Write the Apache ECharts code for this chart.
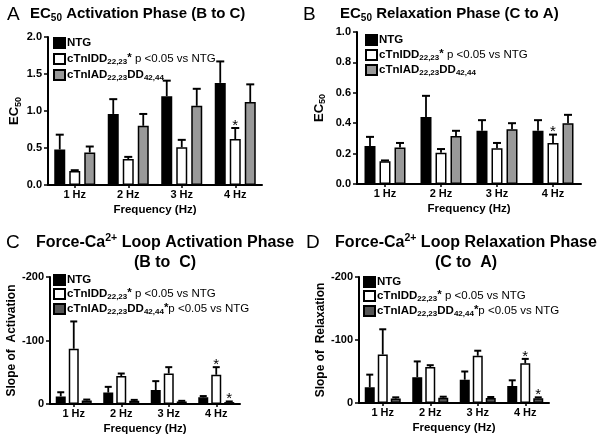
<!DOCTYPE html>
<html><head><meta charset="utf-8">
<script src="https://cdn.jsdelivr.net/npm/echarts@6/dist/echarts.min.js"></script>
<style>html,body{margin:0;padding:0;background:#fff}#c{width:601px;height:443px}</style>
</head><body><div id="c"></div>
<script>
// ---------- data ----------
const categories = ['1 Hz', '2 Hz', '3 Hz', '4 Hz'];

// Panel A: EC50 activation phase
const ntgA = [0.48, 0.96, 1.20, 1.38];
const ntgAErr = [0.68, 1.16, 1.41, 1.67];
const ddA = [0.19, 0.35, 0.51, 0.62];
const ddAErr = [0.20, 0.38, 0.61, 0.77];
const adA = [0.44, 0.80, 1.07, 1.12];
const adAErr = [0.52, 0.96, 1.30, 1.36];
const ntgAStar = [0, 0, 0, 0];
const ddAStar = [0, 0, 0, 1];
const adAStar = [0, 0, 0, 0];
const ticksA = [0, 0.5, 1.0, 1.5, 2.0];

// Panel B: EC50 relaxation phase
const ntgB = [0.25, 0.44, 0.35, 0.35];
const ntgBErr = [0.31, 0.58, 0.42, 0.42];
const ddB = [0.15, 0.205, 0.235, 0.27];
const ddBErr = [0.155, 0.23, 0.27, 0.325];
const adB = [0.24, 0.315, 0.36, 0.40];
const adBErr = [0.27, 0.35, 0.40, 0.455];
const ntgBStar = [0, 0, 0, 0];
const ddBStar = [0, 0, 0, 1];
const adBStar = [0, 0, 0, 0];
const ticksB = [0, 0.2, 0.4, 0.6, 0.8, 1.0];

// Panel C: slope of activation
const ntgC = [-12, -18, -22, -10.5];
const ntgCErr = [-18.5, -27, -36, -12.5];
const ddC = [-87, -44, -48, -46];
const ddCErr = [-130, -48, -58, -58];
const adC = [-5.5, -5, -4, -3];
const adCErr = [-7, -6.5, -5, -4];
const ntgCStar = [0, 0, 0, 0];
const ddCStar = [0, 0, 0, 1];
const adCStar = [0, 0, 0, 1];
const ticksC = [-200, -100, 0];

// Panel D: slope of relaxation
const ntgD = [-25, -41, -37, -27];
const ntgDErr = [-45, -66, -50, -36];
const ddD = [-77, -57, -75, -63];
const ddDErr = [-117, -60, -83, -70];
const adD = [-7, -8.5, -8, -7.5];
const adDErr = [-9, -10, -9.5, -9];
const ntgDStar = [0, 0, 0, 0];
const ddDStar = [0, 0, 0, 1];
const adDStar = [0, 0, 0, 1];
const ticksD = [-200, -100, 0];

// ---------- styling / layout ----------
const FONT = '"Liberation Sans", Arial, sans-serif';
const rich = {
  b: { fontFamily: FONT, fontWeight: 'bold', fontSize: 11.5, lineHeight: 14, color: '#000' },
  n: { fontFamily: FONT, fontWeight: 'normal', fontSize: 11.5, lineHeight: 14, color: '#000' },
  sub: { fontFamily: FONT, fontWeight: 'bold', fontSize: 8, lineHeight: 7, verticalAlign: 'bottom', color: '#000' },
  sup: { fontFamily: FONT, fontWeight: 'bold', fontSize: 11.5, lineHeight: 8, verticalAlign: 'top', color: '#000' }
};
const legendLabels = {
  NTG: '{b|NTG}',
  DD: '{b|cTnIDD}{sub|22,23}{sup|*}{n| p <0.05 vs NTG}',
  AD: '{b|cTnIAD}{sub|22,23}{b|DD}{sub|42,44}',
  ADs: '{b|cTnIAD}{sub|22,23}{b|DD}{sub|42,44}{sup|*}{n|p <0.05 vs NTG}'
};

const panels = [
  {
    key: 'A', grid: { left: 48, top: 37, width: 214, height: 148 },
    min: 0, max: 2, interval: 0.5, inverse: false, dec: 1,
    barWidth: 11, gap: 4, cap: 4,
    yName: '{y|EC}{ys|50}', yNameGap: 21, yNameSize: 13,
    legend: { left: 53, top: 37, itemGap: 3 },
    series: [
      { id: 'NTG', label: 'NTG', data: ntgA, err: ntgAErr, star: ntgAStar, color: '#000' },
      { id: 'DD', label: 'DD', data: ddA, err: ddAErr, star: ddAStar, color: '#fff' },
      { id: 'AD', label: 'AD', data: adA, err: adAErr, star: adAStar, color: '#999' }
    ]
  },
  {
    key: 'B', grid: { left: 357, top: 32, width: 224, height: 152 },
    min: 0, max: 1, interval: 0.2, inverse: false, dec: 1,
    barWidth: 11, gap: 4, cap: 4,
    yName: '{y|EC}{ys|50}', yNameGap: 30, yNameSize: 13,
    legend: { left: 365, top: 34, itemGap: 2 },
    series: [
      { id: 'NTG', label: 'NTG', data: ntgB, err: ntgBErr, star: ntgBStar, color: '#000' },
      { id: 'DD', label: 'DD', data: ddB, err: ddBErr, star: ddBStar, color: '#fff' },
      { id: 'AD', label: 'AD', data: adB, err: adBErr, star: adBStar, color: '#999' }
    ]
  },
  {
    key: 'C', grid: { left: 50, top: 277, width: 190, height: 127 },
    min: -200, max: 0, interval: 100, inverse: true, dec: 0,
    barWidth: 10, gap: 3, cap: 3.5,
    yName: '{y|Slope of  Activation}', yNameGap: 27, yNameSize: 12,
    legend: { left: 53, top: 274, itemGap: 1 },
    series: [
      { id: 'NTG', label: 'NTG', data: ntgC, err: ntgCErr, star: ntgCStar, color: '#000' },
      { id: 'DD', label: 'DD', data: ddC, err: ddCErr, star: ddCStar, color: '#fff' },
      { id: 'AD', label: 'ADs', data: adC, err: adCErr, star: adCStar, color: '#555' }
    ]
  },
  {
    key: 'D', grid: { left: 359, top: 277, width: 190, height: 126 },
    min: -200, max: 0, interval: 100, inverse: true, dec: 0,
    barWidth: 10, gap: 3, cap: 3.5,
    yName: '{y|Slope of  Relaxation}', yNameGap: 27, yNameSize: 12,
    legend: { left: 363, top: 276, itemGap: 1 },
    series: [
      { id: 'NTG', label: 'NTG', data: ntgD, err: ntgDErr, star: ntgDStar, color: '#000' },
      { id: 'DD', label: 'DD', data: ddD, err: ddDErr, star: ddDStar, color: '#fff' },
      { id: 'AD', label: 'ADs', data: adD, err: adDErr, star: adDStar, color: '#555' }
    ]
  }
];

// ---------- build option ----------
const grids = [], xAxes = [], yAxes = [], series = [], legends = [];
const nameToLabel = {};

panels.forEach((p, pi) => {
  grids.push(p.grid);
  xAxes.push({
    type: 'category', gridIndex: pi, data: categories,
    axisLine: { show: true, lineStyle: { color: '#000', width: 2 } },
    axisTick: { show: true, alignWithLabel: true, length: 3, lineStyle: { color: '#000', width: 1.5 } },
    axisLabel: { color: '#000', fontFamily: FONT, fontWeight: 'bold', fontSize: 11, margin: 4 },
    name: 'Frequency (Hz)', nameLocation: 'middle', nameGap: 19,
    nameTextStyle: { color: '#000', fontFamily: FONT, fontWeight: 'bold', fontSize: 11.5 }
  });
  yAxes.push({
    type: 'value', gridIndex: pi, min: p.min, max: p.max, interval: p.interval, inverse: p.inverse,
    splitLine: { show: false },
    axisLine: { show: true, lineStyle: { color: '#000', width: 2 } },
    axisTick: { show: true, length: 4, lineStyle: { color: '#000', width: 1.5 } },
    axisLabel: {
      color: '#000', fontFamily: FONT, fontWeight: 'bold', fontSize: 11, margin: 6,
      formatter: v => v.toFixed(p.dec)
    },
    name: p.yName, nameLocation: 'middle', nameGap: p.yNameGap, nameRotate: 90,
    nameTextStyle: {
      rich: {
        y: { fontFamily: FONT, fontWeight: 'bold', fontSize: p.yNameSize, lineHeight: 16, color: '#000' },
        ys: { fontFamily: FONT, fontWeight: 'bold', fontSize: 9, lineHeight: 9, verticalAlign: 'bottom', color: '#000' }
      }
    }
  });

  const total = p.series.length * p.barWidth + (p.series.length - 1) * p.gap;
  const offsets = p.series.map((s, si) => -total / 2 + p.barWidth / 2 + si * (p.barWidth + p.gap));
  const names = [];
  const errData = [];

  p.series.forEach((s, si) => {
    const name = p.key + '_' + s.id;
    names.push(name);
    nameToLabel[name] = legendLabels[s.label];
    series.push({
      type: 'bar', name, xAxisIndex: pi, yAxisIndex: pi, data: s.data,
      barWidth: p.barWidth, barGap: (p.gap / p.barWidth * 100) + '%',
      itemStyle: { color: s.color, borderColor: '#000', borderWidth: 1.5 },
      emphasis: { disabled: true }, z: 2
    });
    s.data.forEach((v, ci) => errData.push([ci, v, s.err[ci], si, s.star[ci]]));
  });

  series.push({
    type: 'custom', xAxisIndex: pi, yAxisIndex: pi, data: errData, z: 3,
    encode: { x: 0, y: 1 }, silent: true,
    renderItem: (params, api) => {
      const ci = api.value(0), v = api.value(1), e = api.value(2), si = api.value(3), st = api.value(4);
      const p0 = api.coord([ci, v]);
      const p1 = api.coord([ci, e]);
      const x = p0[0] + offsets[si];
      const children = [
        { type: 'line', shape: { x1: x, y1: p0[1], x2: x, y2: p1[1] }, style: { stroke: '#000', lineWidth: 1.8 } },
        { type: 'line', shape: { x1: x - p.cap, y1: p1[1], x2: x + p.cap, y2: p1[1] }, style: { stroke: '#000', lineWidth: 2 } }
      ];
      if (st) {
        children.push({
          type: 'text', x: x, y: p1[1] + 5,
          style: { text: '*', fill: '#000', font: 'normal 15px ' + FONT, textAlign: 'center', textVerticalAlign: 'bottom' }
        });
      }
      return { type: 'group', children };
    }
  });

  legends.push({
    orient: 'vertical', left: p.legend.left, top: p.legend.top, itemGap: p.legend.itemGap,
    padding: 0,
    itemWidth: 11, itemHeight: 10, icon: 'rect', selectedMode: false,
    data: names,
    formatter: n => nameToLabel[n],
    textStyle: { rich, padding: [0, 0, 0, -3] }
  });
});

const titleRich = {
  b: { fontFamily: FONT, fontWeight: 'bold', fontSize: 15, lineHeight: 19, color: '#000' },
  s: { fontFamily: FONT, fontWeight: 'bold', fontSize: 10, lineHeight: 9, verticalAlign: 'bottom', color: '#000' },
  c: { fontFamily: FONT, fontWeight: 'bold', fontSize: 16, lineHeight: 20, color: '#000' },
  p: { fontFamily: FONT, fontWeight: 'bold', fontSize: 10.5, lineHeight: 10, verticalAlign: 'top', color: '#000' }
};
const letterStyle = { fontFamily: FONT, fontWeight: 'normal', fontSize: 19, color: '#000' };
const titles = [
  { text: 'A', left: 7, top: 5, textStyle: letterStyle },
  { text: '{b|EC}{s|50}{b| Activation Phase (B to C)}', left: 30, top: 4, textStyle: { rich: titleRich } },
  { text: 'B', left: 303, top: 5, textStyle: letterStyle },
  { text: '{b|EC}{s|50}{b| Relaxation Phase (C to A)}', left: 340, top: 4, textStyle: { rich: titleRich } },
  { text: 'C', left: 6, top: 233, textStyle: letterStyle },
  { text: '{c|Force-Ca}{p|2+}{c| Loop Activation Phase}\n{c|(B to  C)}', left: 165, top: 233, textAlign: 'center', textStyle: { rich: titleRich } },
  { text: 'D', left: 306, top: 233, textStyle: letterStyle },
  { text: '{c|Force-Ca}{p|2+}{c| Loop Relaxation Phase}\n{c|(C to  A)}', left: 466, top: 233, textAlign: 'center', textStyle: { rich: titleRich } }
].map(t => Object.assign({ padding: 0 }, t));

const chart = echarts.init(document.getElementById('c'), null, { renderer: 'canvas' });
chart.setOption({
  backgroundColor: '#fff',
  animation: false,
  title: titles,
  grid: grids,
  xAxis: xAxes,
  yAxis: yAxes,
  legend: legends,
  series
});
</script>
</body></html>
